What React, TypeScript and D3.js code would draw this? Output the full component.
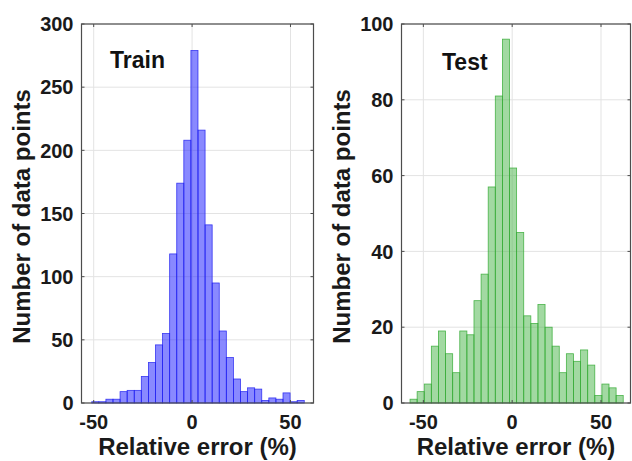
import React from "react";
import * as d3 from "d3";

// ---- Data ----
const trainBinStart = -51;
const trainBinWidth = 3.6;
const trainCounts = [1, 1, 3, 3, 9, 10, 10, 21, 32, 46, 55, 118, 174, 208, 279, 216, 141, 95, 57, 36, 19, 9, 12, 11, 2, 4, 3, 8, 1, 2];

const testBinStart = -57.5;
const testBinWidth = 4;
const testCounts = [1, 3, 5, 15, 19, 13, 8, 19, 18, 27, 34, 57, 81, 96, 62, 45, 23, 21, 26, 20, 15, 8, 13, 11, 14, 10, 2, 5, 4, 2];

const xTicks = [-50, 0, 50];
const trainYTicks = [0, 50, 100, 150, 200, 250, 300];
const testYTicks = [0, 20, 40, 60, 80, 100];

const xLabel = "Relative error (%)";
const yLabel = "Number of data points";

const FONT = "Arial, 'Liberation Sans', Helvetica, sans-serif";

type PanelProps = {
  x0: number; x1: number; y0: number; y1: number;
  xDomain: [number, number]; yMax: number;
  yTicks: number[]; counts: number[]; binStart: number; binWidth: number;
  fill: string; stroke: string; title: string; titleX: number; titleY: number;
  yLabelX: number;
};

function Panel(p: PanelProps) {
  const x = d3.scaleLinear().domain(p.xDomain).range([p.x0, p.x1]);
  const y = d3.scaleLinear().domain([0, p.yMax]).range([p.y1, p.y0]);
  const axisColor = "#4d4d4d";
  const gridColor = "#e3e3e3";
  const tl = 3;
  const bins = p.counts.map((c, i) => ({
    a: p.binStart + i * p.binWidth,
    b: p.binStart + (i + 1) * p.binWidth,
    c,
  }));
  return (
    <g>
      {/* grid */}
      {xTicks.map((t) => (
        <line key={"gx" + t} x1={x(t)} x2={x(t)} y1={p.y0} y2={p.y1} stroke={gridColor} strokeWidth={1} />
      ))}
      {p.yTicks.map((t) => (
        <line key={"gy" + t} x1={p.x0} x2={p.x1} y1={y(t)} y2={y(t)} stroke={gridColor} strokeWidth={1} />
      ))}
      {/* bars */}
      {bins.map((b, i) => (
        <rect
          key={i}
          x={x(b.a)}
          y={y(b.c)}
          width={x(b.b) - x(b.a)}
          height={y(0) - y(b.c)}
          fill={p.fill}
          stroke={p.stroke}
          strokeWidth={0.8}
        />
      ))}
      {/* box */}
      <rect x={p.x0} y={p.y0} width={p.x1 - p.x0} height={p.y1 - p.y0} fill="none" stroke={axisColor} strokeWidth={1.2} />
      {/* ticks */}
      {xTicks.map((t) => (
        <g key={"tx" + t}>
          <line x1={x(t)} x2={x(t)} y1={p.y1} y2={p.y1 - tl} stroke={axisColor} />
          <line x1={x(t)} x2={x(t)} y1={p.y0} y2={p.y0 + tl} stroke={axisColor} />
          <text x={x(t)} y={429} textAnchor="middle" fontFamily={FONT} fontWeight="bold" fontSize={20} fill="#1a1a1a">
            {t < 0 ? "-" + Math.abs(t) : String(t)}
          </text>
        </g>
      ))}
      {p.yTicks.map((t) => (
        <g key={"ty" + t}>
          <line x1={p.x0} x2={p.x0 + tl} y1={y(t)} y2={y(t)} stroke={axisColor} />
          <line x1={p.x1} x2={p.x1 - tl} y1={y(t)} y2={y(t)} stroke={axisColor} />
          <text x={p.x0 - 8} y={y(t)} dy="0.36em" textAnchor="end" fontFamily={FONT} fontWeight="bold" fontSize={20} fill="#1a1a1a">
            {t}
          </text>
        </g>
      ))}
      {/* labels */}
      <text x={(p.x0 + p.x1) / 2} y={455} textAnchor="middle" fontFamily={FONT} fontWeight="bold" fontSize={24} fill="#1a1a1a">
        {xLabel}
      </text>
      <text
        transform={`translate(${p.yLabelX},${(p.y0 + p.y1) / 2 + 3}) rotate(-90)`}
        textAnchor="middle"
        dy="0.35em"
        fontFamily={FONT}
        fontWeight="bold"
        fontSize={24}
        fill="#1a1a1a"
      >
        {yLabel}
      </text>
      <text x={p.titleX} y={p.titleY} fontFamily={FONT} fontWeight="bold" fontSize={23} fill="#111">
        {p.title}
      </text>
    </g>
  );
}

export default function App() {
  return (
    <svg
      width={632}
      height={461}
      style={{ position: "absolute", left: 0, top: 0, background: "#fff" }}
    >
      <rect x={0} y={0} width={632} height={461} fill="#fff" />
      <Panel
        x0={81.5} x1={313.5} y0={24} y1={403}
        xDomain={[-56.2, 61.7]} yMax={300}
        yTicks={trainYTicks} counts={trainCounts}
        binStart={trainBinStart} binWidth={trainBinWidth}
        fill="rgba(40,40,255,0.55)" stroke="rgba(30,30,240,0.85)"
        title="Train" titleX={110} titleY={68} yLabelX={22}
      />
      <Panel
        x0={401.5} x1={630.5} y0={24} y1={403}
        xDomain={[-62.3, 66.6]} yMax={100}
        yTicks={testYTicks} counts={testCounts}
        binStart={testBinStart} binWidth={testBinWidth}
        fill="rgba(70,180,70,0.5)" stroke="rgba(50,170,50,0.85)"
        title="Test" titleX={442} titleY={70} yLabelX={342}
      />
    </svg>
  );
}
